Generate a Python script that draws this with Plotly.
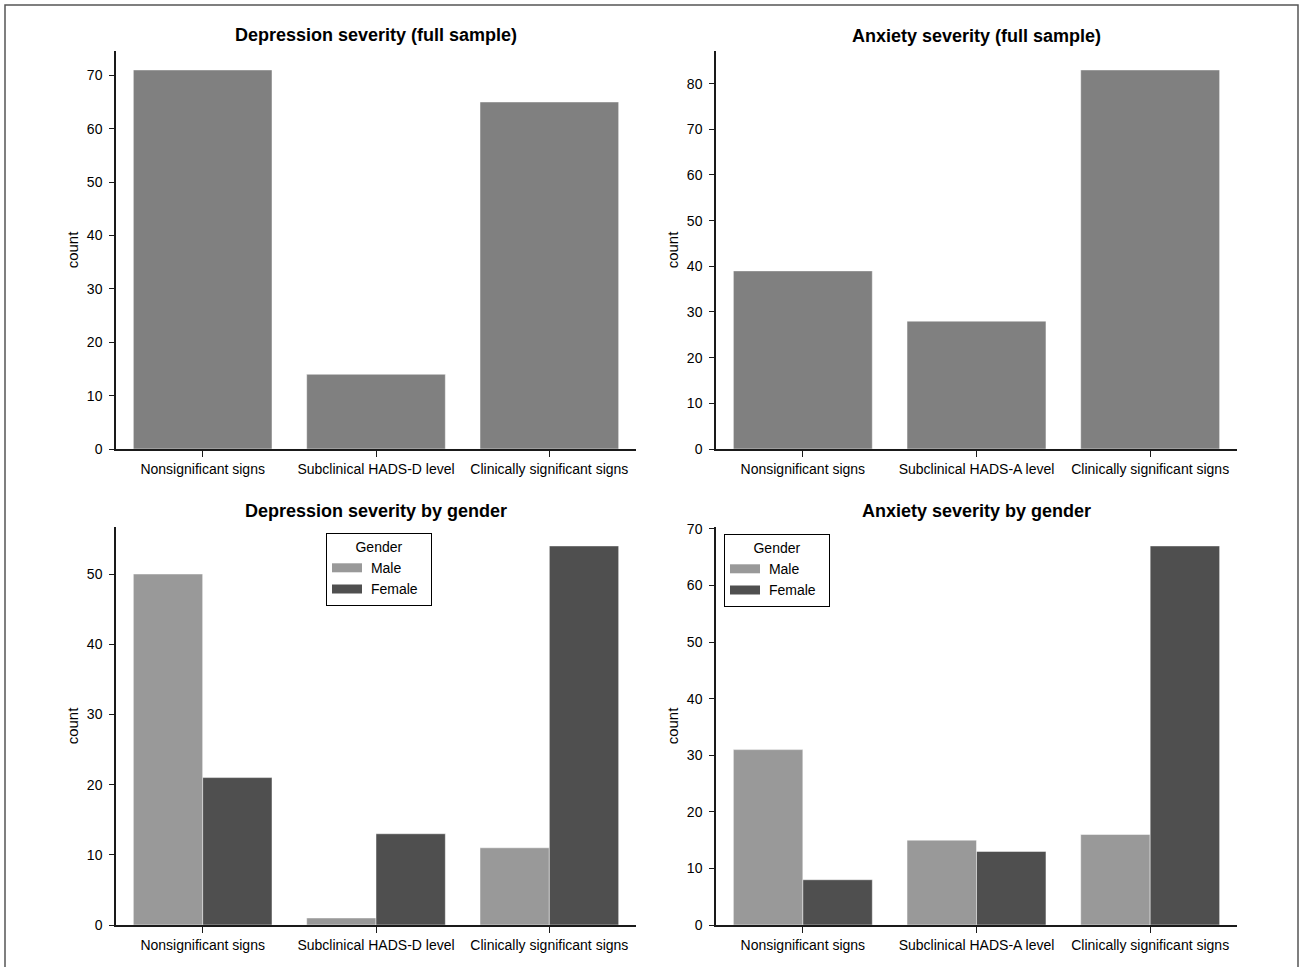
import plotly.graph_objects as go

W, H = 1301, 967

dep_categories = ["Nonsignificant signs", "Subclinical HADS-D level", "Clinically significant signs"]
anx_categories = ["Nonsignificant signs", "Subclinical HADS-A level", "Clinically significant signs"]

dep_full = [71, 14, 65]
anx_full = [39, 28, 83]

dep_male = [50, 1, 11]
dep_female = [21, 13, 54]
anx_male = [31, 15, 16]
anx_female = [8, 13, 67]

genders = ["Male", "Female"]

titles = ["Depression severity (full sample)", "Anxiety severity (full sample)",
          "Depression severity by gender", "Anxiety severity by gender"]

FULL_C = "#808080"
MALE_C = "#999999"
FEMALE_C = "#4f4f4f"
FONT = "Liberation Sans, Arial, Helvetica, sans-serif"

def px_x(p):
    return p / W

def px_y(p):
    return 1 - p / H

panels = {
    1: dict(x=(116, 636), y=(449, 51)),
    2: dict(x=(716, 1237), y=(449, 51)),
    3: dict(x=(116, 636), y=(925, 527)),
    4: dict(x=(716, 1237), y=(925, 527)),
}

fig = go.Figure()

edge = dict(color="rgba(255,255,255,0.6)", width=0.8)

fig.add_trace(go.Bar(x=dep_categories, y=dep_full, marker=dict(color=FULL_C, line=edge),
                     showlegend=False, xaxis="x", yaxis="y"))
fig.add_trace(go.Bar(x=anx_categories, y=anx_full, marker=dict(color=FULL_C, line=edge),
                     showlegend=False, xaxis="x2", yaxis="y2"))
fig.add_trace(go.Bar(x=dep_categories, y=dep_male, name="Male", marker=dict(color=MALE_C, line=edge),
                     xaxis="x3", yaxis="y3", showlegend=False))
fig.add_trace(go.Bar(x=dep_categories, y=dep_female, name="Female", marker=dict(color=FEMALE_C, line=edge),
                     xaxis="x3", yaxis="y3", showlegend=False))
fig.add_trace(go.Bar(x=anx_categories, y=anx_male, name="Male", marker=dict(color=MALE_C, line=edge),
                     xaxis="x4", yaxis="y4", showlegend=False))
fig.add_trace(go.Bar(x=anx_categories, y=anx_female, name="Female", marker=dict(color=FEMALE_C, line=edge),
                     xaxis="x4", yaxis="y4", showlegend=False))

# legend entries drawn as wide swatches (seaborn-like patches)
NB = "\u00a0"
for lg, ax in (("legend", ("x3", "y3")), ("legend2", ("x4", "y4"))):
    for g, c in zip(genders, (MALE_C, FEMALE_C)):
        fig.add_trace(go.Scatter(x=[None], y=[None], mode="lines", name=NB + g + NB * 2,
                                 line=dict(color=c, width=9),
                                 xaxis=ax[0], yaxis=ax[1], legend=lg, hoverinfo="skip"))

ymax = {1: max(dep_full), 2: max(anx_full),
        3: max(dep_male + dep_female), 4: max(anx_male + anx_female)}

layout = {}
for i, p in panels.items():
    sx = "" if i == 1 else str(i)
    layout["xaxis" + sx] = dict(
        domain=[px_x(p["x"][0]), px_x(p["x"][1])],
        anchor="y" + sx,
        range=[-0.5, 2.5],
        showline=True, linecolor="#1a1a1a", linewidth=1.5,
        ticks="outside", ticklen=6, tickwidth=1.3, tickcolor="#1a1a1a",
        showgrid=False, zeroline=False, automargin=False,
        tickfont=dict(size=14, color="black", family=FONT),
        fixedrange=True,
    )
    layout["yaxis" + sx] = dict(
        domain=[px_y(p["y"][0]), px_y(p["y"][1])],
        anchor="x" + sx,
        range=[0, ymax[i] * 1.05],
        dtick=10, tick0=0,
        showline=True, linecolor="#1a1a1a", linewidth=1.5,
        ticks="outside", ticklen=5, tickwidth=1.3, tickcolor="#1a1a1a",
        ticklabelstandoff=4,
        showgrid=False, zeroline=False, automargin=False,
        tickfont=dict(size=14, color="black", family=FONT),
        title=dict(text="count", font=dict(size=15, color="black", family=FONT), standoff=5),
        fixedrange=True,
    )

annotations = []
title_y = {1: 35, 2: 36, 3: 511, 4: 511}
for i, p in panels.items():
    annotations.append(dict(
        text="<b>" + titles[i - 1] + "</b>",
        x=px_x((p["x"][0] + p["x"][1]) / 2), y=px_y(title_y[i]),
        xref="paper", yref="paper", xanchor="center", yanchor="middle",
        showarrow=False, font=dict(size=18, color="black", family=FONT),
    ))

legend_common = dict(
    bgcolor="white", bordercolor="black", borderwidth=1,
    font=dict(size=14, color="black", family=FONT),
    title=dict(text="Gender", side="top center", font=dict(size=14, color="black", family=FONT)),
    xanchor="left", yanchor="top", tracegroupgap=0,
)

fig.update_layout(
    **layout,
    annotations=annotations,
    barmode="group", bargap=0.2, bargroupgap=0,
    width=W, height=H,
    margin=dict(l=0, r=0, t=0, b=0, autoexpand=False),
    paper_bgcolor="white", plot_bgcolor="white",
    font=dict(family=FONT, color="black"),
    legend=dict(x=px_x(326), y=px_y(533), **legend_common),
    legend2=dict(x=px_x(724), y=px_y(534), **legend_common),
    shapes=[dict(type="rect", xref="paper", yref="paper",
                 x0=px_x(5), x1=px_x(1298), y0=-0.02, y1=px_y(5),
                 line=dict(color="#555555", width=1.5), fillcolor="rgba(0,0,0,0)")],
)

fig.write_html("out.html",
               config={"displayModeBar": False},
               post_script="document.body.style.margin='0';document.body.style.overflow='hidden';")
